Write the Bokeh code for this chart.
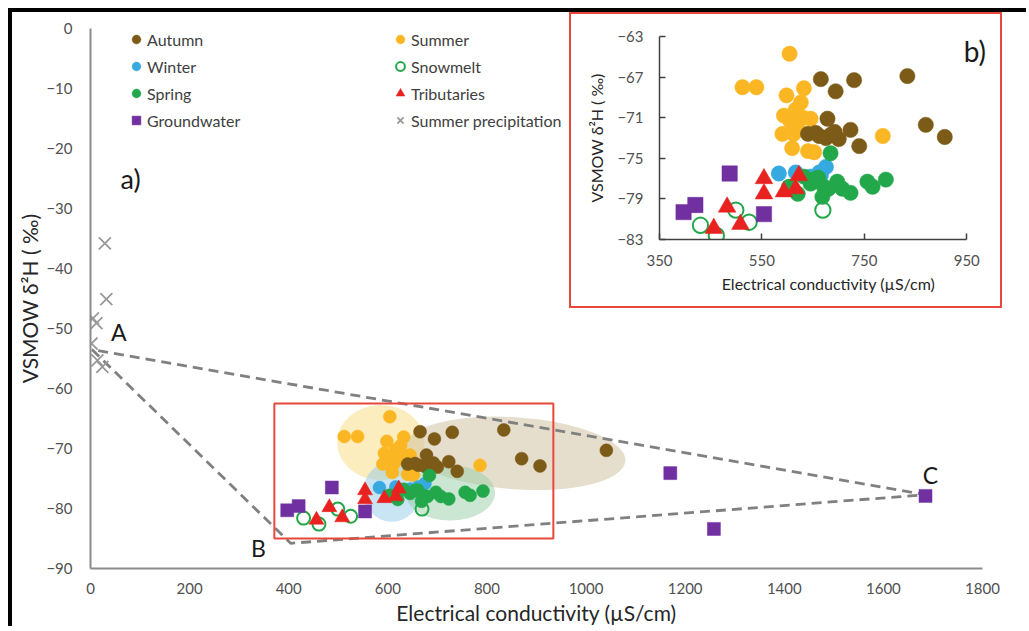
from bokeh.plotting import figure
from bokeh.models import Legend, LegendItem, Label, FixedTicker, Range1d, Div
from bokeh.embed import file_html
from bokeh.resources import INLINE

FONT = "Lato"

# ---------------- data ----------------
x_ticks_main = [0, 200, 400, 600, 800, 1000, 1200, 1400, 1600, 1800]
y_ticks_main = [0, -10, -20, -30, -40, -50, -60, -70, -80, -90]
x_ticks_inset = [350, 550, 750, 950]
y_ticks_inset = [-63, -67, -71, -75, -79, -83]

autumn_ec = [665, 730, 694, 834, 678, 723, 870, 907, 740, 640, 655, 662, 675, 684, 700, 692, 1041]
autumn_d2h = [-67.2, -67.3, -68.4, -66.9, -71.1, -72.2, -71.7, -72.9, -73.8, -72.6, -72.5, -72.8, -73.0, -72.7, -73.1, -72.4, -70.3]

summer_ec = [604, 512, 539, 598, 632, 626, 616, 593, 605, 619, 630, 645, 590, 612, 609, 640, 652, 786]
summer_d2h = [-64.7, -68.0, -68.0, -68.8, -68.1, -69.5, -70.2, -70.8, -71.3, -71.9, -71.0, -71.1, -72.6, -72.6, -74.0, -74.3, -74.4, -72.8]

winter_ec = [583, 616, 645, 662, 665, 675]
winter_d2h = [-76.5, -76.4, -76.8, -76.4, -76.7, -75.85]

spring_ec = [684, 603, 620, 632, 645, 655, 671, 668, 680, 697, 707, 723, 756, 766, 792, 660]
spring_d2h = [-74.5, -77.8, -78.5, -76.8, -77.5, -77.0, -77.8, -78.8, -78.0, -77.3, -78.0, -78.4, -77.3, -77.8, -77.1, -76.9]

snowmelt_ec = [430, 461, 499, 525, 669]
snowmelt_d2h = [-81.6, -82.6, -80.1, -81.3, -80.1]

trib_ec = [456, 482, 508, 554, 554, 593, 616, 622]
trib_d2h = [-81.9, -79.8, -81.5, -77.0, -78.5, -78.3, -78.0, -76.7]

gw_ec = [397, 420, 487, 554, 1170, 1258, 1685]
gw_d2h = [-80.3, -79.6, -76.5, -80.5, -74.1, -83.4, -77.9]

precip_ec = [29, 32, 5, 12, 2, 14, 24]
precip_d2h = [-35.8, -45.1, -48.3, -49.1, -52.5, -55.3, -56.4]

# end-member mixing triangle A -> B -> C -> A
mix_ec = [3, 404, 1685, 3]
mix_d2h = [-53.5, -85.8, -77.7, -53.5]

# season ellipses
ell_x = [586, 858, 608, 726]
ell_y = [-69.0, -70.8, -77.2, -77.4]
ell_w = [177, 444, 115, 181]
ell_h = [12.5, 12.0, 10.0, 9.2]
ell_angle = [0.0, -0.07, 0.0, 0.0]
ell_color = ["#F7DB7D", "#CDBE9C", "#93C9E7", "#97CDA5"]

# zoom window shown in inset (left, right, top, bottom)
zoom_left = [371]
zoom_right = [934]
zoom_top = [-62.5]
zoom_bottom = [-85.0]

# ---------------- styles ----------------
C_AUT = "#7B5B17"
C_SUM = "#FBB624"
C_WIN = "#36A9E1"
C_SPR = "#22A84A"
C_TRI = "#E8231F"
C_GW = "#7030A0"
C_PRE = "#9A9A9A"
RED = "#E8473B"

series = [
    ("Summer", summer_ec, summer_d2h, "circle", C_SUM, C_SUM),
    ("Autumn", autumn_ec, autumn_d2h, "circle", C_AUT, C_AUT),
    ("Winter", winter_ec, winter_d2h, "circle", C_WIN, C_WIN),
    ("Spring", spring_ec, spring_d2h, "circle", C_SPR, C_SPR),
    ("Snowmelt", snowmelt_ec, snowmelt_d2h, "circle", None, C_SPR),
    ("Groundwater", gw_ec, gw_d2h, "square", C_GW, C_GW),
    ("Tributaries", trib_ec, trib_d2h, "triangle", C_TRI, C_TRI),
    ("Summer precipitation", precip_ec, precip_d2h, "x", None, C_PRE),
]


def add_points(fig, scale):
    rends = {}
    for name, xs, ys, marker, fill, line in series:
        if marker == "circle":
            size = 13 * scale
        elif marker == "square":
            size = 13 * scale
        elif marker == "triangle":
            size = 15 * scale
        else:
            size = 17 * scale
        if fill is None:
            lw = 2 if marker == "circle" else 1.8
            r = fig.scatter(xs, ys, marker=marker, size=size, fill_color=None,
                            line_color=line, line_width=lw)
        else:
            r = fig.scatter(xs, ys, marker=marker, size=size, fill_color=fill,
                            line_color=line, line_width=0.5)
        rends[name] = r
    return rends


def style_axes(fig, label_size, tick_size, axis_color):
    for ax in (fig.xaxis[0], fig.yaxis[0]):
        ax.axis_label_text_font = FONT
        ax.axis_label_text_font_style = "normal"
        ax.axis_label_text_font_size = label_size
        ax.axis_label_text_color = "#262626"
        ax.major_label_text_font = FONT
        ax.major_label_text_font_size = tick_size
        ax.major_label_text_color = "#505050"
        ax.axis_line_color = axis_color
        ax.minor_tick_line_color = None
    fig.xgrid.grid_line_color = None
    fig.ygrid.grid_line_color = None
    fig.outline_line_color = None


# ---------------- main figure ----------------
# generous fixed borders; the figure is shifted so that its frame sits at page (90, 28)
MBL, MBT = 100, 40
p = figure(frame_width=892, frame_height=540, title=None,
           min_border_left=MBL, min_border_top=MBT, min_border_right=37, min_border_bottom=63,
           x_range=Range1d(0, 1800), y_range=Range1d(-90, 0),
           output_backend="svg", toolbar_location=None,
           x_axis_label="Electrical conductivity (µS/cm)",
           y_axis_label="VSMOW δ²H ( ‰)",
           styles={"position": "absolute", "left": f"{90 - MBL}px", "top": f"{28 - MBT}px"})
p.xaxis.ticker = FixedTicker(ticks=x_ticks_main)
p.yaxis.ticker = FixedTicker(ticks=y_ticks_main)
style_axes(p, "21px", "15px", "#8C8C8C")
p.xaxis.axis_line_width = 2
p.yaxis.axis_line_width = 2
p.xaxis.major_tick_line_color = None
p.yaxis.major_tick_line_color = None
p.xaxis.major_tick_out = 0
p.yaxis.major_tick_out = 0
p.xaxis.major_label_standoff = 14
p.yaxis.major_label_standoff = 18
p.xaxis.axis_label_standoff = 3
p.yaxis.axis_label_standoff = 1

p.ellipse(x=ell_x, y=ell_y, width=ell_w, height=ell_h, angle=ell_angle,
          fill_color=ell_color, fill_alpha=0.5, line_color=None)
p.line(mix_ec, mix_d2h, line_color="#808080", line_width=2.8, line_dash="10 6")
p.quad(left=zoom_left, right=zoom_right, top=zoom_top, bottom=zoom_bottom,
       fill_color=None, line_color=RED, line_width=2)
main_r = add_points(p, 1.0)

# legend laid out column by column
legend_order = ["Autumn", "Winter", "Spring", "Groundwater",
                "Summer", "Snowmelt", "Tributaries", "Summer precipitation"]
items = [LegendItem(label=n, renderers=[main_r[n]]) for n in legend_order]
leg = Legend(items=items, ncols=2, location=(35, 437),
             glyph_width=22, glyph_height=22, label_standoff=-7, label_width=237,
             label_height=22, spacing=5, padding=0, margin=0,
             border_line_color=None, background_fill_alpha=0,
             label_text_font=FONT, label_text_font_size="16px", label_text_color="#404040")
p.add_layout(leg)

for txt, x, y, size, align in [("a)", 60.5, -25.0, "27px", "left"),
                               ("A", 57, -50.6, "23px", "center"),
                               ("B", 339, -86.6, "23px", "center"),
                               ("C", 1695, -74.4, "23px", "center")]:
    p.add_layout(Label(x=x, y=y, text=txt, text_font=FONT, text_font_size=size,
                       text_color="#1a1a1a", text_align=align, text_baseline="middle"))

# black left/top edge of the picture
edge = Div(text="", width=1018, height=618,
           styles={"position": "absolute", "left": "3px", "top": "3px",
                   "border-left": "4px solid #000", "border-top": "4px solid #000",
                   "background": "transparent", "pointer-events": "none"})

# ---------------- inset figure ----------------
# x range extended past 950 so the "b)" tag fits inside the frame; axis line bounded to 350-950
q = figure(frame_width=338, frame_height=203, title=None,
           min_border_left=88, min_border_top=22, min_border_right=3, min_border_bottom=67,
           x_range=Range1d(350, 1010), y_range=Range1d(-83, -63),
           output_backend="svg", toolbar_location=None,
           x_axis_label="Electrical conductivity (µS/cm)",
           y_axis_label="VSMOW δ²H ( ‰)",
           styles={"position": "absolute", "left": "569px", "top": "12px",
                   "border": "2px solid " + RED, "background": "white"})
q.xaxis.ticker = FixedTicker(ticks=x_ticks_inset)
q.yaxis.ticker = FixedTicker(ticks=y_ticks_inset)
q.xaxis.bounds = (350, 950)
style_axes(q, "16px", "15px", "#404040")
for ax in (q.xaxis[0], q.yaxis[0]):
    ax.axis_line_width = 1.5
    ax.major_tick_line_color = "#404040"
    ax.major_tick_line_width = 1.5
    ax.major_tick_in = 6
    ax.major_tick_out = 0
q.xaxis.major_label_standoff = 15
q.yaxis.major_label_standoff = 16
q.xaxis.axis_label_standoff = 5
q.yaxis.axis_label_standoff = 8
add_points(q, 1.18)
q.add_layout(Label(x=944, y=-64.4, text="b)", text_font=FONT, text_font_size="28px",
                   text_color="#1a1a1a", text_align="left", text_baseline="middle"))

open("out.html", "w").write(file_html([p, edge, q], INLINE))
